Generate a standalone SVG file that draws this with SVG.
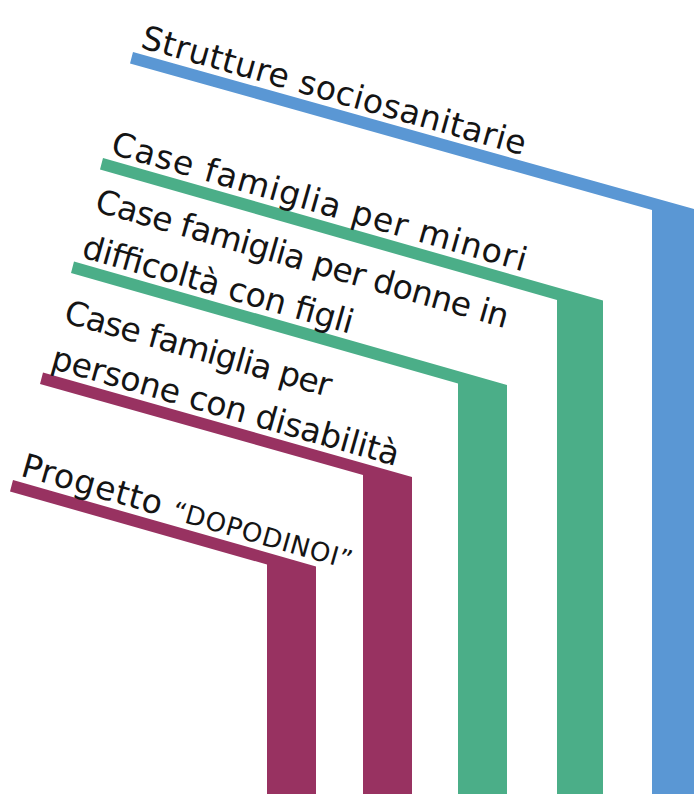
<svg xmlns="http://www.w3.org/2000/svg" width="694" height="794" viewBox="0 0 694 794">
<style>
.lbl{font-family:"DejaVu Sans","Liberation Sans",sans-serif;font-size:33px;fill:#141414}
.blue{fill:#5A97D4}
.green{fill:#4BAE88}
.purple{fill:#983261}
</style>
<rect x="0" y="0" width="694" height="794" fill="#ffffff"/>
<g id="strutture">
<polygon class="blue" points="133,52 694,209 694,794 652,794 652,210 130,63.5"/>
<text class="lbl" transform="translate(133,52) rotate(15.7)" x="5" y="-6" textLength="398">Strutture sociosanitarie</text>
</g>
<g id="minori">
<polygon class="green" points="103,158 603,300.5 603,794 557,794 557,300 100,169.5"/>
<text class="lbl" transform="translate(103,158) rotate(15.9)" x="5" y="-6" textLength="430">Case famiglia per minori</text>
</g>
<g id="donne">
<polygon class="green" points="74,261.5 507,385 507,794 458,794 458,383.5 71,273"/>
<text class="lbl" transform="translate(74,261.5) rotate(15.9)" x="5" y="-54" textLength="428">Case famiglia per donne in</text>
<text class="lbl" transform="translate(74,261.5) rotate(15.9)" x="5" y="-6" textLength="280">difficoltà con figli</text>
</g>
<g id="disabilita">
<polygon class="purple" points="43,372.5 412,477 412,794 363,794 363,475 40,384"/>
<text class="lbl" transform="translate(43,372.5) rotate(15.8)" x="5" y="-54" textLength="276">Case famiglia per</text>
<text class="lbl" transform="translate(43,372.5) rotate(15.8)" x="5" y="-6" textLength="360">persone con disabilità</text>
</g>
<g id="dopodinoi">
<polygon class="purple" points="13,480 316,566.5 316,794 267,794 267,564.5 10,491.5"/>
<text class="lbl" transform="translate(13,480) rotate(15.9)" x="5" y="-6" textLength="343">Progetto <tspan font-size="26">“DOPODINOI”</tspan></text>
</g>
</svg>
